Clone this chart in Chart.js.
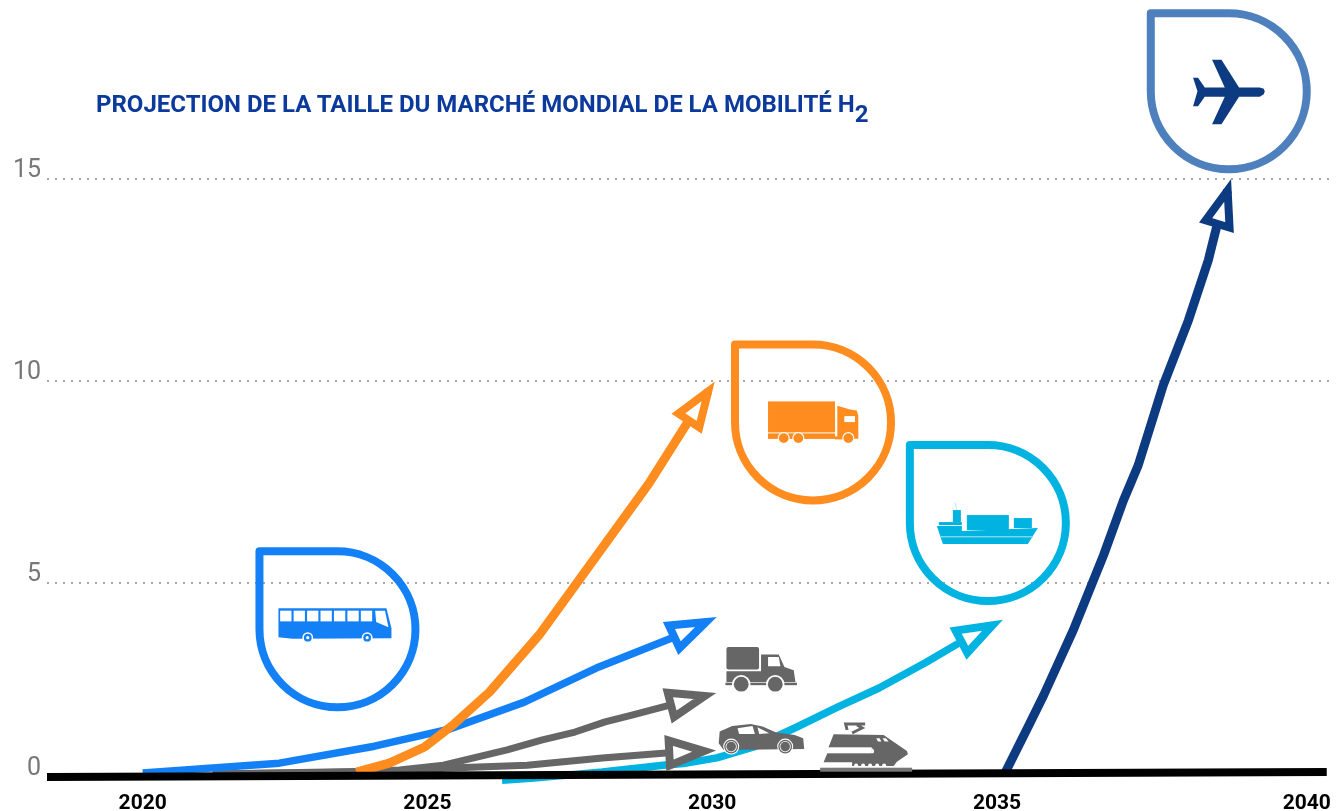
<!DOCTYPE html>
<html lang="fr">
<head>
<meta charset="UTF-8" />
<title>Projection de la taille du marché mondial de la mobilité H2</title>
<script src="https://cdn.jsdelivr.net/npm/chart.js"></script>
<style>
  html, body { margin: 0; padding: 0; background: #fff; overflow: hidden; }
  #wrap { position: relative; width: 1337px; height: 811px; }
  #chart { position: absolute; left: 0; top: 0; }
  #title {
    position: absolute; left: 96px; top: 89px; white-space: nowrap;
    font: 700 24px/30px Roboto, sans-serif; color: #0b3a9c;
  }
  #title sub { font-size: 24px; line-height: 0; vertical-align: -10px; }
</style>
</head>
<body>
<div id="wrap">
  <canvas id="chart" width="1337" height="811"></canvas>
  <div id="title">PROJECTION DE LA TAILLE DU MARCHÉ MONDIAL DE LA MOBILITÉ H<sub>2</sub></div>
</div>

<script>
// Values
const xTicks = [2020, 2025, 2030, 2035, 2040.44];
const xTickLabels = ['2020', '2025', '2030', '2035', '2040'];
const yTicks = [0.2, 5, 10, 15];
const yTickLabels = ['0', '5', '10', '15'];

const baseYears = [2018.32, 2040.79];
const baseValues = [0.2, 0.32];

const busYears = [2020, 2022.4, 2024.07, 2025.38, 2026.7, 2028.01, 2029.28, 2029.89];
const busValues = [0.3, 0.54, 0.96, 1.38, 2.05, 2.92, 3.63, 4.03];

const truckYears = [2023.75, 2024.33, 2024.95, 2025.47, 2026.09, 2026.96, 2027.66, 2028.89, 2029.59, 2029.93];
const truckValues = [0.32, 0.54, 0.94, 1.51, 2.3, 3.71, 5.07, 7.46, 9.02, 9.74];

const vanYears = [2021.23, 2023.81, 2024.51, 2025.28, 2026.4, 2027, 2027.59, 2028.12, 2028.59, 2029.19, 2029.87];
const vanValues = [0.27, 0.32, 0.37, 0.49, 0.87, 1.11, 1.31, 1.56, 1.73, 1.95, 2.2];

const carYears = [2021.23, 2024.51, 2025.4, 2026.75, 2028.07, 2029.19, 2029.86];
const carValues = [0.27, 0.35, 0.42, 0.49, 0.67, 0.79, 0.84];

const shipYears = [2026.31, 2026.87, 2028.07, 2029.14, 2029.54, 2030.08, 2030.73, 2031.45, 2032.21, 2032.93, 2033.75, 2034.33, 2034.92];
const shipValues = [0.12, 0.17, 0.32, 0.49, 0.54, 0.67, 0.94, 1.41, 1.93, 2.4, 3.03, 3.51, 3.95];

const planeYears = [2035.15, 2035.56, 2035.82, 2036.34, 2036.87, 2037.22, 2037.48, 2037.92, 2038.36, 2038.71, 2038.85, 2039.05];
const planeValues = [0.32, 1.48, 2.22, 3.83, 5.68, 7.04, 7.91, 9.89, 11.49, 12.98, 13.77, 14.71];

const BLUE = '#1480f6', ORANGE = '#ff8c1f', CYAN = '#00b3e0', NAVY = '#0d3b82', PLANE_PIN = '#4d80bd', GREY = '#666666';

function pairs(xs, ys) { return xs.map((x, i) => ({ x, y: ys[i] })); }

function line(label, xs, ys, color, width, arrow) {
  return {
    label, data: pairs(xs, ys), borderColor: color, borderWidth: width,
    pointRadius: 0, tension: 0, borderCapStyle: 'butt', borderJoinStyle: 'round', arrow
  };
}

// icons are sketched around their anchor, in px
function poly(ctx, color, pts) {
  ctx.fillStyle = color;
  ctx.beginPath();
  pts.forEach((p, i) => i ? ctx.lineTo(p[0], p[1]) : ctx.moveTo(p[0], p[1]));
  ctx.closePath();
  ctx.fill();
}
function disc(ctx, color, x, y, r) {
  ctx.fillStyle = color;
  ctx.beginPath();
  ctx.arc(x, y, r, 0, Math.PI * 2);
  ctx.fill();
}

function drawBus(ctx) {
  poly(ctx, BLUE, [[-59, -21], [49, -21], [54, -1], [54, 9], [-45, 9.5], [-59, 8]]);
  for (let i = 0; i < 7; i++) {
    ctx.fillStyle = '#fff';
    ctx.fillRect(-57.3 + i * 13.45, -18.7, 11.3, 10.7);
  }
  poly(ctx, '#fff', [[37.7, -18.7], [47.5, -18.7], [51, -2], [38.7, -7.3]]);
  [-29.7, 29.7].forEach(x => {
    disc(ctx, '#fff', x, 8.3, 5.4);
    disc(ctx, BLUE, x, 8.3, 3.9);
    disc(ctx, '#fff', x, 8.3, 1.6);
  });
}

function drawTruck(ctx) {
  ctx.fillStyle = ORANGE;
  ctx.fillRect(-45, -21, 67, 31);
  ctx.fillRect(-45, 11, 67, 5.5);
  ctx.fillRect(22, 14, 10, 3);
  poly(ctx, ORANGE, [[24.3, -16.7], [37, -13], [43.7, -12], [45.3, -7], [45.3, 16.3], [24.3, 16.3]]);
  ctx.fillStyle = '#fff';
  ctx.fillRect(31.3, -6.3, 10.7, 6);
  [-29.3, -14.7, 35.3].forEach(x => {
    disc(ctx, '#fff', x, 15.7, 6);
    disc(ctx, ORANGE, x, 15.7, 4.9);
  });
}

function drawShip(ctx) {
  ctx.strokeStyle = '#bfe9f6';
  ctx.lineWidth = 1;
  ctx.beginPath();
  ctx.moveTo(-33, -21);
  ctx.lineTo(-31, -13);
  ctx.stroke();
  ctx.fillStyle = CYAN;
  ctx.fillRect(-35, -13, 8, 12);
  ctx.fillRect(-49, -1, 23, 3);
  ctx.fillRect(-21, -8, 42, 15);
  ctx.fillRect(26, -5, 18, 10);
  poly(ctx, CYAN, [[-51, 3], [-26, 3], [-26, 8], [50, 5], [40, 21], [-45, 21]]);
  ctx.fillStyle = '#7fd9ef';
  ctx.fillRect(-47, 13, 92, 1.4);
}

function drawPlane(ctx) {
  poly(ctx, NAVY, [[36, 0], [35, 3], [31, 5.5], [10.3, 5.5], [-7.3, 32.8], [-16.7, 32.8], [-4, 5.5], [-24, 5.5], [-30.7, 14.8],
    [-35.7, 14.8], [-31.3, 0], [-35.7, -13.5], [-30.7, -13.5], [-24, -3.8], [-4, -3.8], [-16.7, -31.5], [-7.3, -31.5], [10.3, -3.8], [31, -3.8], [35, -2.5]]);
}

function drawVan(ctx) {
  ctx.fillStyle = GREY;
  ctx.beginPath();
  ctx.roundRect(-39.3, -21.3, 32.6, 22.6, 2);
  ctx.fill();
  poly(ctx, GREY, [[-4.7, -13.7], [13, -13.7], [18.7, -1.3], [28, 2], [29.7, 13.7], [-39.3, 13.7], [-39.3, 3], [-4.7, 3]]);
  ctx.fillRect(-40.3, 14.5, 71.5, 2.5);
  poly(ctx, '#fff', [[2.3, -11.3], [13, -11.3], [14.7, -2], [2.3, -2]]);
  [-24.5, 9.5].forEach(x => {
    disc(ctx, '#fff', x, 16, 9.2);
    disc(ctx, GREY, x, 16, 7.4);
  });
}

function drawCar(ctx) {
  poly(ctx, GREY, [[-42.5, 4.3], [-41.5, -7.3], [-29, -13], [-10.4, -15], [1.4, -12.3], [15, -6.3], [33.5, -4], [42, -0.7], [43, 10], [-37.5, 11]]);
  poly(ctx, '#fff', [[-23.7, -10.7], [-8.7, -13], [-6.3, -5], [-22, -5]]);
  poly(ctx, '#fff', [[-3.7, -11.7], [8, -5.7], [-2, -5]]);
  [-30, 24].forEach(x => {
    disc(ctx, '#fff', x, 7.7, 8);
    disc(ctx, GREY, x, 7.7, 6.9);
    disc(ctx, '#fff', x, 7.7, 5.6);
    disc(ctx, GREY, x, 7.7, 4.8);
  });
}

function drawTrain(ctx) {
  ctx.strokeStyle = GREY;
  ctx.lineWidth = 3;
  ctx.beginPath();
  ctx.moveTo(-20, -17);
  ctx.lineTo(-21.5, -23);
  ctx.lineTo(-2, -23);
  ctx.moveTo(-10, -22);
  ctx.lineTo(-5, -19);
  ctx.lineTo(-15, -14);
  ctx.stroke();
  poly(ctx, GREY, [[-33.5, -12.7], [16.5, -12], [39.8, 4], [40.8, 7.3], [29.8, 14.7], [26.5, 19], [-15, 19], [-15, 15.3], [-43.5, 15.3], [-40.2, 7.3], [-38.5, 0]]);
  ctx.fillStyle = '#fff';
  ctx.fillRect(-44, 0.3, 48.2, 6);
  poly(ctx, '#fff', [[4, 0.3], [7, 3.3], [6.5, 6.3], [4, 6.3]]);
  [-11, -4, 3, 10, 17].forEach(x => disc(ctx, '#fff', x, 18.5, 2));
  poly(ctx, '#fff', [[9.2, -8.7], [12.5, -8.7], [14.2, -5.4], [10.8, -5.4]]);
  poly(ctx, '#fff', [[15.5, -8.7], [18.8, -8.7], [21.5, -5.4], [17.5, -5.4]]);
  ctx.fillStyle = '#777';
  ctx.fillRect(-47, 20.7, 92, 4);
}

const pinSet = [
  { year: 2023.42, value: 3.85, color: BLUE, icon: drawBus },
  { year: 2031.77, value: 8.97, color: ORANGE, icon: drawTruck },
  { year: 2034.84, value: 6.48, color: CYAN, icon: drawShip },
  { year: 2039.07, value: 17.16, color: PLANE_PIN, icon: drawPlane }
];
const looseIcons = [
  { year: 2030.94, value: 2.89, icon: drawVan },
  { year: 2030.86, value: 1.14, icon: drawCar },
  { year: 2032.72, value: 0.94, icon: drawTrain }
];

const extras = {
  id: 'extras',
  afterDatasetsDraw(chart) {
    const ctx = chart.ctx;
    const { x, y } = chart.scales;

    // hollow arrow heads at the end of each curve
    chart.data.datasets.forEach((ds, i) => {
      if (!ds.arrow) return;
      const pts = chart.getDatasetMeta(i).data;
      const tip = pts[pts.length - 1], prev = pts[pts.length - 2];
      const len = Math.hypot(tip.x - prev.x, tip.y - prev.y);
      const ux = (tip.x - prev.x) / len, uy = (tip.y - prev.y) / len;
      const bx = tip.x - ux * 35, by = tip.y - uy * 35;
      ctx.save();
      ctx.beginPath();
      ctx.moveTo(tip.x, tip.y);
      ctx.lineTo(bx - uy * 12.5, by + ux * 12.5);
      ctx.lineTo(bx + uy * 12.5, by - ux * 12.5);
      ctx.closePath();
      ctx.fillStyle = '#fff';
      ctx.fill();
      ctx.lineWidth = 8;
      ctx.lineJoin = 'miter';
      ctx.miterLimit = 10;
      ctx.strokeStyle = ds.borderColor;
      ctx.stroke();
      ctx.restore();
    });

    // drop shaped pins: square top left corner, round everywhere else
    pinSet.forEach(p => {
      const cx = x.getPixelForValue(p.year), cy = y.getPixelForValue(p.value), r = 78;
      ctx.save();
      ctx.beginPath();
      ctx.moveTo(cx - r, cy - r);
      ctx.lineTo(cx, cy - r);
      ctx.arc(cx, cy, r, -Math.PI / 2, Math.PI);
      ctx.closePath();
      ctx.lineWidth = 8;
      ctx.lineJoin = 'round';
      ctx.strokeStyle = p.color;
      ctx.stroke();
      ctx.translate(cx, cy);
      p.icon(ctx);
      ctx.restore();
    });

    looseIcons.forEach(p => {
      ctx.save();
      ctx.translate(x.getPixelForValue(p.year), y.getPixelForValue(p.value));
      p.icon(ctx);
      ctx.restore();
    });
  }
};

new Chart(document.getElementById('chart').getContext('2d'), {
  type: 'line',
  data: {
    // first one is drawn last, so the black base sits on top of the curves
    datasets: [
      line('Base', baseYears, baseValues, '#000000', 8, false),
      line('Poids lourds', truckYears, truckValues, ORANGE, 9, true),
      line('Bus', busYears, busValues, BLUE, 7.5, true),
      line('Utilitaires', vanYears, vanValues, GREY, 7, true),
      line('Voitures', carYears, carValues, GREY, 7, true),
      line('Avions', planeYears, planeValues, NAVY, 9, true),
      line('Navires', shipYears, shipValues, CYAN, 7.5, true)
    ]
  },
  options: {
    responsive: false,
    animation: false,
    layout: { padding: { right: 6 } },
    plugins: { legend: { display: false }, tooltip: { enabled: false } },
    scales: {
      x: {
        type: 'linear',
        min: 2018.32,
        max: 2040.84,
        afterBuildTicks(axis) { axis.ticks = xTicks.map(value => ({ value })); },
        afterFit(axis) { axis.height = 26; },
        grid: { display: false, drawTicks: false },
        border: { display: false },
        ticks: {
          autoSkip: false, maxRotation: 0, padding: 6, color: '#000',
          font: { family: 'Roboto', size: 21, weight: '700' },
          callback: (v, i) => xTickLabels[i]
        }
      },
      y: {
        min: 0,
        max: 18.9,
        afterBuildTicks(axis) { axis.ticks = yTicks.map(value => ({ value })); },
        afterFit(axis) { axis.width = 47; },
        grid: {
          drawTicks: false,
          lineWidth: 2,
          color: ctx => (ctx.tick && ctx.tick.value > 1 ? '#a8a8a8' : 'rgba(0,0,0,0)')
        },
        border: { display: false, dash: [2, 6] },
        ticks: {
          autoSkip: false, padding: 6, color: '#777777', labelOffset: -8,
          font: { family: 'Roboto', size: 25 },
          callback: (v, i) => yTickLabels[i]
        }
      }
    }
  },
  plugins: [extras]
});
</script>
</body>
</html>
